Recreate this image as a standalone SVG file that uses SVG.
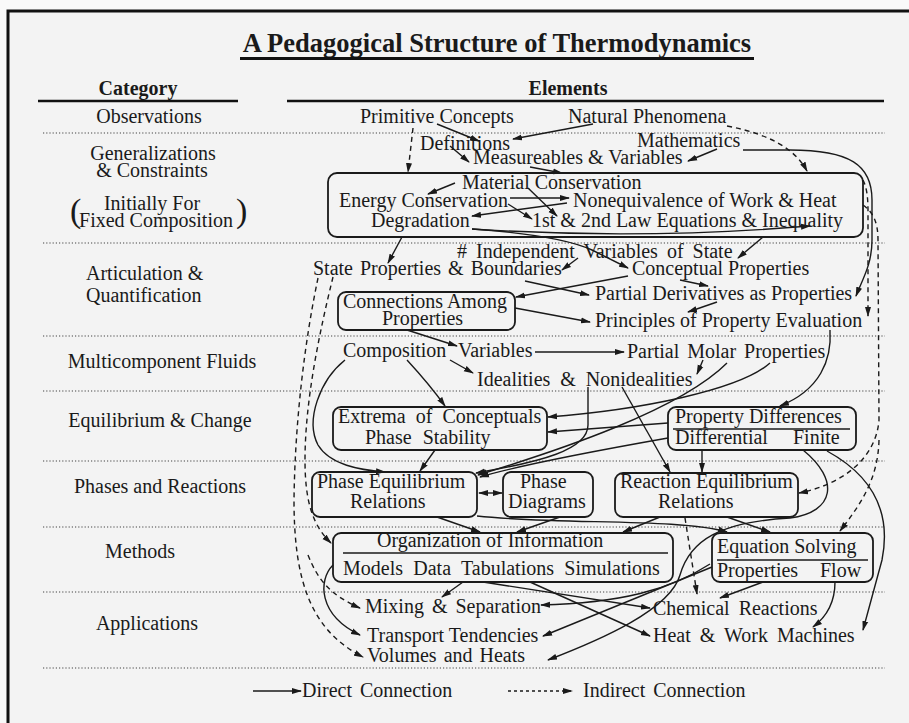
<svg xmlns="http://www.w3.org/2000/svg" width="909" height="723" viewBox="0 0 909 723">
<defs>
<marker id="ah" markerUnits="userSpaceOnUse" markerWidth="10" markerHeight="7" refX="9" refY="3.5" orient="auto"><path d="M0,0.5 L10,3.5 L0,6.5 z" fill="#1a1a1a"/></marker>
<marker id="ah2" markerUnits="userSpaceOnUse" markerWidth="10" markerHeight="7" refX="9" refY="3.5" orient="auto-start-reverse"><path d="M0,0.5 L10,3.5 L0,6.5 z" fill="#1a1a1a"/></marker>
</defs>
<style>
text{font-family:"Liberation Serif","Times New Roman",serif;font-size:20px;fill:#1a1a1a}
.b{font-weight:bold}
.sep{stroke:#444;stroke-width:1.2;stroke-dasharray:1.2 2}
.box{fill:none;stroke:#1a1a1a;stroke-width:1.8}
.ln{fill:none;stroke:#1a1a1a;stroke-width:1.4}
.c{fill:none;stroke:#1a1a1a;stroke-width:1.4;marker-end:url(#ah)}
.d{fill:none;stroke:#1a1a1a;stroke-width:1.4;stroke-dasharray:5 4;marker-end:url(#ah)}
</style>
<rect x="0" y="0" width="909" height="723" fill="#f9f9f9"/>
<rect x="8" y="11" width="1000" height="800" fill="#f3f3f3" stroke="#111" stroke-width="3"/>

<g id="header">
<text x="497" y="52" class="b" text-anchor="middle" style="font-size:26.5px">A Pedagogical Structure of Thermodynamics</text>
<line x1="240" y1="58.5" x2="754" y2="58.5" stroke="#111" stroke-width="3"/>
<text x="138" y="95" class="b" text-anchor="middle">Category</text>
<line x1="38" y1="101" x2="238" y2="101" stroke="#111" stroke-width="2.5"/>
<text x="568" y="95" class="b" text-anchor="middle">Elements</text>
<line x1="287" y1="101" x2="884" y2="101" stroke="#111" stroke-width="2.5"/>
</g>

<g id="separators">
<line class="sep" x1="43" y1="133" x2="885" y2="133"/>
<line class="sep" x1="43" y1="243" x2="885" y2="243"/>
<line class="sep" x1="43" y1="336" x2="885" y2="336"/>
<line class="sep" x1="43" y1="391" x2="885" y2="391"/>
<line class="sep" x1="43" y1="461" x2="885" y2="461"/>
<line class="sep" x1="43" y1="527" x2="885" y2="527"/>
<line class="sep" x1="43" y1="592" x2="885" y2="592"/>
<line class="sep" x1="43" y1="668" x2="885" y2="668"/>
</g>

<g id="categories">
<text x="149" y="123" text-anchor="middle">Observations</text>
<text x="153" y="160" text-anchor="middle">Generalizations</text>
<text x="152" y="177" text-anchor="middle">&amp; Constraints</text>
<text x="152" y="210" text-anchor="middle">Initially For</text>
<text x="156" y="227" text-anchor="middle">Fixed Composition</text>
<text x="70" y="222" style="font-size:34px">(</text>
<text x="236" y="222" style="font-size:34px">)</text>
<text x="86" y="280">Articulation  &amp;</text>
<text x="86" y="302">Quantification</text>
<text x="162" y="368" text-anchor="middle">Multicomponent Fluids</text>
<text x="160" y="427" text-anchor="middle">Equilibrium &amp; Change</text>
<text x="160" y="493" text-anchor="middle">Phases and Reactions</text>
<text x="140" y="558" text-anchor="middle">Methods</text>
<text x="147" y="630" text-anchor="middle">Applications</text>
</g>

<g id="connectors">
<!-- dashed -->
<path class="d" d="M413,128 L408,172"/>
<path class="d" d="M727,126 C770,134 796,150 807,171"/>
<path class="d" d="M863,180 C867,188 868,198 868,212 L868,316"/>
<path class="d" d="M863,205 C873,212 878,222 878,240 L879,420 C876,460 840,485 799,493"/>
<path class="d" d="M879,440 C878,480 860,505 840,531"/>
<path class="d" d="M333,277 C320,330 305,400 305,460 C305,500 312,525 331,543"/>
<path class="d" d="M318,278 C305,340 295,420 294,500 C294,580 310,630 363,657"/>
<path class="d" d="M308,555 C318,580 330,595 360,608"/>
<path class="d" d="M685,518 L697,594"/>
<!-- solid -->
<path class="c" d="M437,124 L479,141"/>
<path class="c" d="M593,124 L513,139"/>
<path class="c" d="M450,146 L469,162"/>
<path class="c" d="M717,149 L688,161"/>
<path class="c" d="M530,167 L562,173"/>
<path class="c" d="M455,183 L428,194"/>
<path class="c" d="M510,198 L569,198"/>
<path class="c" d="M567,203 L472,216"/>
<path class="c" d="M508,204 L532,219"/>
<path class="c" d="M528,188 L557,216"/>
<path class="c" d="M472,229 Q640,240 810,226"/>
<path class="c" d="M472,229 C530,233 570,240 592,250 L628,268"/>
<path class="c" d="M743,150 L790,150 C850,150 872,165 872,200 L872,240 C872,265 862,280 856,296"/>
<path class="c" d="M402,237 L388,263"/>
<path class="c" d="M763,237 L738,258"/>
<path class="c" d="M578,258 L562,270"/>
<path class="c" d="M525,281 L589,295"/>
<path class="c" d="M628,276 L516,297"/>
<path class="c" d="M680,280 L708,286"/>
<path class="c" d="M515,308 L590,322"/>
<path class="c" d="M717,302 L688,312"/>
<path class="c" d="M407,330 L457,346"/>
<path class="c" d="M535,352 L624,352"/>
<path class="c" d="M450,360 L473,373"/>
<path class="c" d="M703,360 L697,374"/>
<path class="c" d="M407,360 Q430,385 445,406"/>
<path class="c" d="M345,360 C320,380 305,420 318,445 C330,465 360,470 385,472"/>
<path class="c" d="M770,363 C740,390 640,410 548,417"/>
<path class="c" d="M727,363 C680,410 560,450 478,475"/>
<path class="c" d="M830,330 C832,360 820,390 780,406"/>
<path class="c" d="M668,423 L548,432"/>
<path class="c" d="M668,438 C600,450 520,465 480,477"/>
<path class="c" d="M588,387 L588,425 C588,450 540,462 476,473"/>
<path class="c" d="M622,387 L670,472"/>
<path class="c" d="M702,450 L702,472"/>
<path class="c" d="M435,450 L420,471"/>
<path d="M479,493 L502,493" class="ln" marker-start="url(#ah2)" marker-end="url(#ah2)"/>
<path class="c" d="M437,517 L480,532"/>
<path class="c" d="M560,517 L517,532"/>
<path class="c" d="M660,517 L623,532"/>
<path class="c" d="M477,516 C560,525 680,518 727,532"/>
<path class="c" d="M727,517 L770,532"/>
<path class="c" d="M803,450 C840,480 835,512 790,518 C720,522 690,540 680,575 C670,610 600,640 548,660"/>
<path class="c" d="M827,451 C880,480 890,520 882,560 L863,630"/>
<path class="c" d="M463,582 L442,597"/>
<path class="c" d="M483,582 L650,608"/>
<path class="c" d="M530,582 L650,636"/>
<path class="c" d="M333,565 C318,580 318,615 360,635"/>
<path class="c" d="M763,582 L720,598"/>
<path class="c" d="M835,582 C835,605 825,618 813,627"/>
<path class="c" d="M710,564 C670,590 620,603 541,605"/>
<path class="c" d="M712,567 L543,636"/>
</g>

<g id="n-primitive"><text x="360" y="123">Primitive Concepts</text></g>
<g id="n-natural"><text x="568" y="123">Natural Phenomena</text></g>
<g id="n-definitions"><text x="420" y="150">Definitions</text></g>
<g id="n-mathematics"><text x="637" y="147">Mathematics</text></g>
<g id="n-measureables"><text x="473" y="164">Measureables &amp; Variables</text></g>
<g id="n-genbox">
<rect class="box" x="328" y="173" width="535" height="64" rx="9"/>
<text x="462" y="189">Material Conservation</text>
<text x="339" y="207">Energy Conservation</text>
<text x="573" y="207">Nonequivalence of Work &amp; Heat</text>
<text x="371" y="227">Degradation</text>
<text x="532" y="227">1st &amp; 2nd Law Equations &amp; Inequality</text>
</g>
<g id="n-independent"><text x="457" y="258" word-spacing="4">#  Independent Variables of State</text></g>
<g id="n-state"><text x="313" y="275" word-spacing="2">State Properties &amp; Boundaries</text></g>
<g id="n-conceptual"><text x="632" y="275">Conceptual Properties</text></g>
<g id="n-connections">
<rect class="box" x="338" y="292" width="177" height="38" rx="8"/>
<text x="343" y="308">Connections Among</text>
<text x="382" y="325">Properties</text>
</g>
<g id="n-partialderiv"><text x="595" y="300">Partial Derivatives as Properties</text></g>
<g id="n-principles"><text x="595" y="327">Principles of Property Evaluation</text></g>
<g id="n-composition"><text x="343" y="357">Composition<tspan x="458">Variables</tspan></text></g>
<g id="n-partialmolar"><text x="627" y="358" word-spacing="3">Partial Molar Properties</text></g>
<g id="n-ideal"><text x="477" y="386" word-spacing="5">Idealities &amp; Nonidealities</text></g>
<g id="n-extrema">
<rect class="box" x="333" y="407" width="214" height="43" rx="8"/>
<text x="338" y="423" word-spacing="5">Extrema of Conceptuals</text>
<text x="365" y="444" word-spacing="6">Phase Stability</text>
</g>
<g id="n-propdiff">
<rect class="box" x="668" y="407" width="188" height="43" rx="8"/>
<line x1="673" y1="429" x2="850" y2="429" stroke="#1a1a1a" stroke-width="1.6"/>
<text x="675" y="423">Property Differences</text>
<text x="675" y="444">Differential<tspan x="793">Finite</tspan></text>
</g>
<g id="n-phaseeq">
<rect class="box" x="312" y="472" width="165" height="45" rx="8"/>
<text x="317" y="488">Phase Equilibrium</text>
<text x="350" y="508">Relations</text>
</g>
<g id="n-phasediag">
<rect class="box" x="503" y="472" width="90" height="45" rx="8"/>
<text x="520" y="488">Phase</text>
<text x="508" y="508">Diagrams</text>
</g>
<g id="n-reactioneq">
<rect class="box" x="615" y="473" width="183" height="44" rx="8"/>
<text x="620" y="488">Reaction Equilibrium</text>
<text x="658" y="508">Relations</text>
</g>
<g id="n-organization">
<rect class="box" x="333" y="533" width="340" height="49" rx="8"/>
<line x1="343" y1="553" x2="668" y2="553" stroke="#1a1a1a" stroke-width="1.6"/>
<text x="377" y="547">Organization of Information</text>
<text x="343" y="575" word-spacing="5.3">Models Data Tabulations Simulations</text>
</g>
<g id="n-eqsolving">
<rect class="box" x="712" y="533" width="161" height="49" rx="8"/>
<line x1="717" y1="560" x2="868" y2="560" stroke="#1a1a1a" stroke-width="1.6"/>
<text x="717" y="553">Equation Solving</text>
<text x="717" y="577">Properties<tspan x="820">Flow</tspan></text>
</g>
<g id="n-mixing"><text x="365" y="613" word-spacing="3">Mixing &amp; Separation</text></g>
<g id="n-transport"><text x="367" y="642">Transport Tendencies</text></g>
<g id="n-volumes"><text x="367" y="662" word-spacing="2">Volumes and Heats</text></g>
<g id="n-chemical"><text x="653" y="615" word-spacing="4">Chemical Reactions</text></g>
<g id="n-heatwork"><text x="653" y="642" word-spacing="4">Heat &amp; Work Machines</text></g>

<g id="legend">
<path class="c" d="M253,691 L301,691"/>
<text x="302" y="697" word-spacing="3">Direct Connection</text>
<path class="d" d="M508,691 L572,691" style="stroke-dasharray:3 3"/>
<text x="583" y="697" word-spacing="3">Indirect Connection</text>
</g>
</svg>
